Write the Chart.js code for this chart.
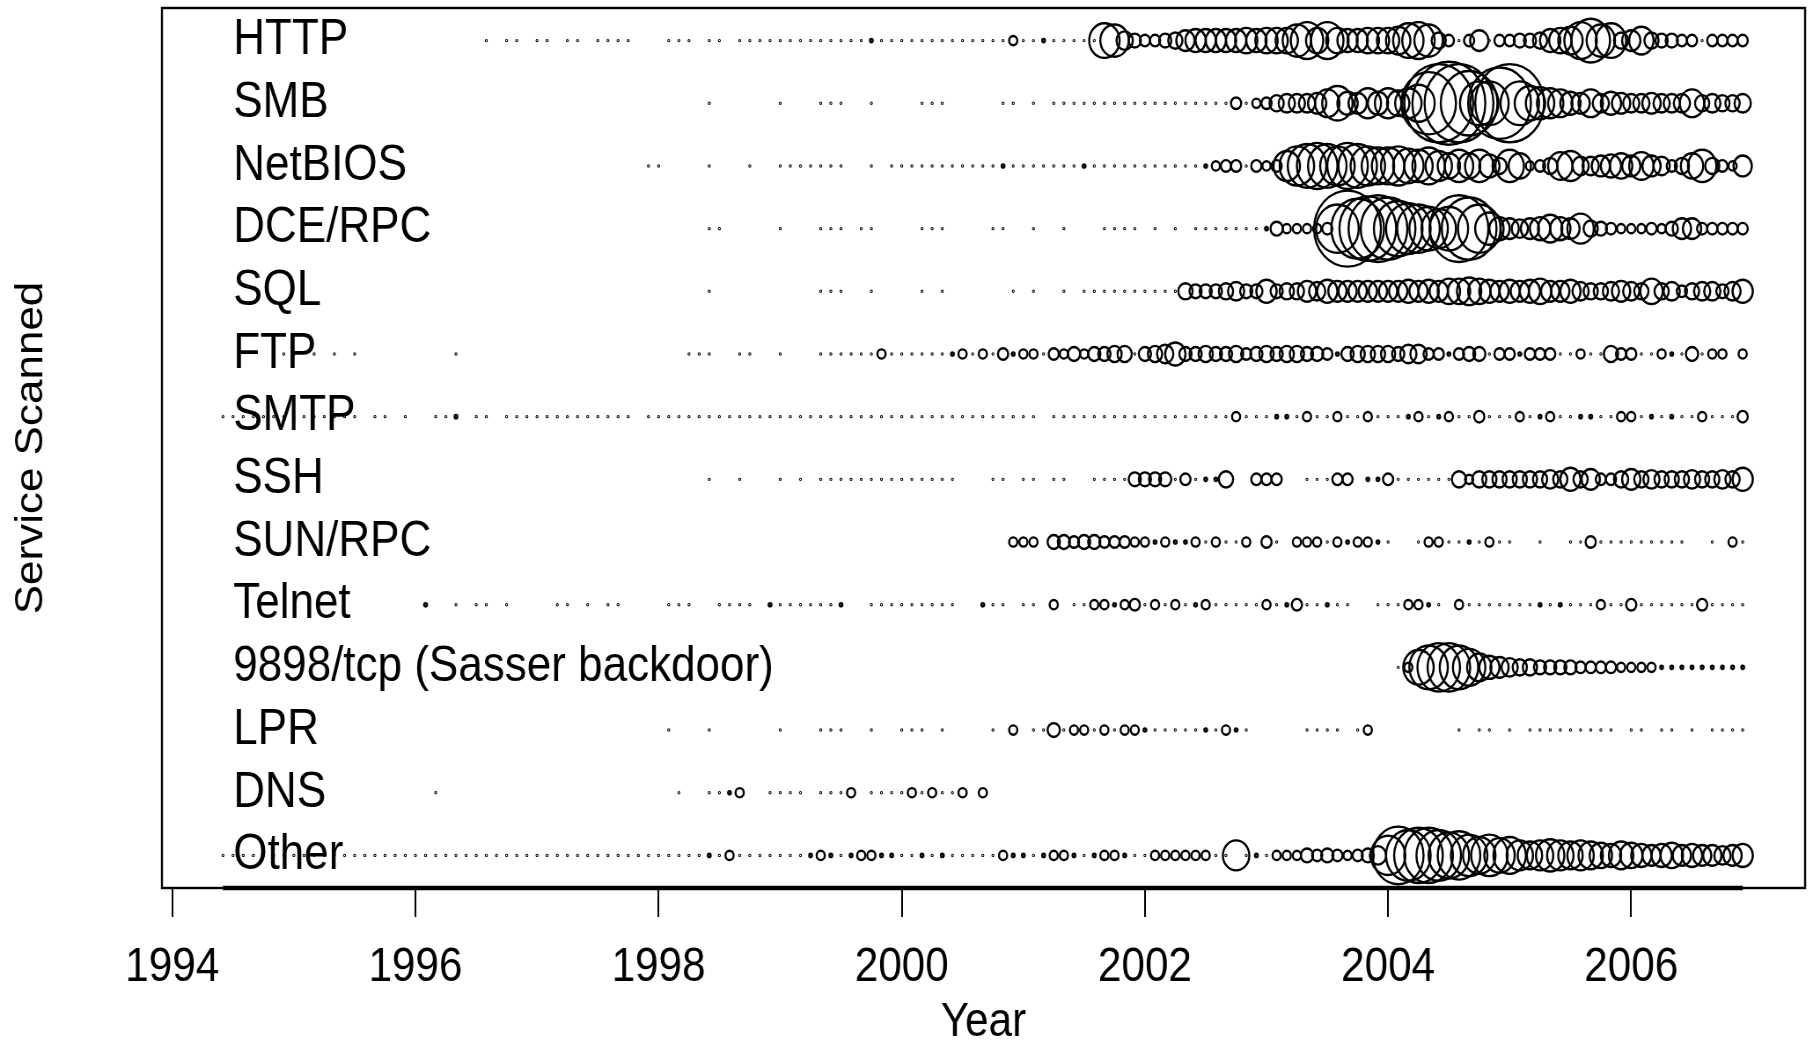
<!DOCTYPE html>
<html>
<head>
<meta charset="utf-8">
<title>Service Scanned</title>
<script src="https://cdn.jsdelivr.net/npm/chart.js@4.4.1/dist/chart.umd.min.js"></script>
<style>
    html, body { margin: 0; padding: 0; background: #fff; }
</style>
</head>
<body>
<canvas id="GraficoServicos" width="2060" height="1043" style="display:block;width:1813px;height:1043px;"></canvas>
<script>
/*Serviços (linhas do gráfico, de cima para baixo)*/
var servicos = ['HTTP', 'SMB', 'NetBIOS', 'DCE/RPC', 'SQL', 'FTP', 'SMTP', 'SSH', 'SUN/RPC',
    'Telnet', '9898/tcp (Sasser backdoor)', 'LPR', 'DNS', 'Other'];

/*Série mensal: começa em junho de 1994 e vai até dezembro de 2006*/
var anoInicio = 1994;
var mesInicio = 6;
var anosEixo = [1994, 1996, 1998, 2000, 2002, 2004, 2006];

/*Volume de varredura por mês (0 = sem registro). Uma linha por ano.*/
var http = [
    0, 0, 0, 0, 0, 0, 0,
    0, 0, 0, 0, 0, 0, 0, 0, 0, 0, 0, 0,
    0, 0, 0, 0, 0, 0, 0, 1, 0, 1, 1, 0,
    1, 1, 0, 1, 1, 0, 1, 1, 1, 1, 0, 0,
    0, 1, 1, 1, 0, 1, 1, 0, 1, 1, 1, 1,
    1, 1, 1, 1, 1, 1, 1, 1, 1, 2, 1, 1,
    1, 1, 1, 1, 1, 1, 1, 1, 1, 1, 1, 3,
    1, 1, 2, 1, 1, 1, 1, 1, 14, 13, 7, 5,
    4, 4, 5, 6, 8, 9, 9, 9, 9, 9, 10, 9,
    10, 10, 10, 13, 15, 10, 15, 10, 9, 9, 10, 10,
    10, 11, 14, 15, 13, 6, 4, 1, 4, 8, 1, 4,
    4, 5, 5, 6, 9, 10, 11, 15, 18, 13, 14, 6,
    8, 11, 6, 5, 5, 4, 4, 1, 4, 4, 4, 4
];
var smb = [
    0, 0, 0, 0, 0, 0, 0,
    0, 0, 0, 0, 0, 0, 0, 0, 0, 0, 0, 0,
    0, 0, 0, 0, 0, 0, 0, 0, 0, 0, 0, 0,
    0, 0, 0, 0, 0, 0, 0, 0, 0, 0, 0, 0,
    0, 0, 0, 0, 0, 1, 0, 0, 0, 0, 0, 0,
    1, 0, 0, 0, 1, 1, 1, 0, 0, 1, 0, 0,
    0, 0, 1, 1, 1, 0, 0, 0, 0, 0, 1, 1,
    0, 1, 0, 1, 1, 1, 1, 1, 1, 1, 1, 1,
    1, 1, 1, 1, 1, 1, 1, 1, 1, 4, 1, 3,
    4, 6, 7, 7, 7, 8, 11, 14, 9, 8, 12, 9,
    12, 10, 12, 15, 26, 33, 35, 33, 27, 18, 18, 30,
    33, 18, 14, 13, 12, 11, 9, 8, 11, 7, 9, 8,
    7, 7, 8, 7, 7, 7, 11, 6, 7, 6, 6, 7
];
var netbios = [
    0, 0, 0, 0, 0, 0, 0,
    0, 0, 0, 0, 0, 0, 0, 0, 0, 0, 0, 0,
    0, 0, 0, 0, 0, 0, 0, 0, 0, 0, 0, 0,
    0, 0, 0, 0, 0, 0, 0, 0, 0, 0, 0, 1,
    1, 0, 0, 0, 0, 1, 0, 0, 0, 1, 0, 0,
    1, 1, 1, 1, 1, 1, 1, 0, 0, 1, 0, 1,
    1, 1, 1, 1, 1, 1, 1, 1, 1, 1, 2, 1,
    1, 1, 1, 1, 1, 1, 2, 1, 1, 1, 1, 1,
    1, 1, 1, 1, 1, 1, 2, 3, 4, 4, 1, 4,
    3, 4, 12, 16, 18, 19, 18, 16, 19, 18, 16, 15,
    15, 16, 14, 13, 15, 12, 10, 13, 10, 13, 9, 6,
    13, 10, 3, 4, 6, 11, 12, 7, 7, 8, 9, 10,
    8, 11, 8, 7, 4, 6, 10, 13, 6, 4, 3, 8
];
var dceRpc = [
    0, 0, 0, 0, 0, 0, 0,
    0, 0, 0, 0, 0, 0, 0, 0, 0, 0, 0, 0,
    0, 0, 0, 0, 0, 0, 0, 0, 0, 0, 0, 0,
    0, 0, 0, 0, 0, 0, 0, 0, 0, 0, 0, 0,
    0, 0, 0, 0, 0, 1, 1, 0, 0, 0, 0, 0,
    1, 0, 0, 0, 1, 1, 1, 0, 1, 1, 0, 0,
    0, 0, 1, 1, 1, 0, 0, 0, 0, 1, 1, 0,
    0, 1, 0, 0, 1, 0, 0, 0, 1, 1, 1, 1,
    0, 1, 0, 1, 0, 1, 1, 1, 1, 1, 1, 1,
    2, 5, 3, 3, 3, 3, 4, 20, 32, 25, 27, 28,
    26, 23, 21, 20, 18, 16, 18, 28, 26, 20, 13, 9,
    8, 7, 8, 9, 11, 9, 8, 12, 6, 5, 4, 3,
    3, 3, 4, 3, 5, 8, 8, 4, 4, 4, 4, 4
];
var sql = [
    0, 0, 0, 0, 0, 0, 0,
    0, 0, 0, 0, 0, 0, 0, 0, 0, 0, 0, 0,
    0, 0, 0, 0, 0, 0, 0, 0, 0, 0, 0, 0,
    0, 0, 0, 0, 0, 0, 0, 0, 0, 0, 0, 0,
    0, 0, 0, 0, 0, 1, 0, 0, 0, 0, 0, 0,
    0, 0, 0, 0, 1, 1, 1, 0, 0, 1, 0, 0,
    0, 0, 1, 0, 1, 0, 0, 0, 0, 0, 0, 1,
    0, 1, 0, 0, 1, 0, 1, 1, 1, 1, 1, 1,
    1, 1, 1, 1, 6, 5, 5, 5, 6, 7, 5, 5,
    9, 5, 6, 6, 8, 7, 9, 8, 8, 8, 8, 8,
    8, 8, 9, 8, 9, 8, 10, 10, 11, 10, 9, 8,
    9, 8, 9, 10, 8, 8, 9, 7, 6, 6, 7, 8,
    7, 6, 10, 6, 7, 4, 6, 7, 7, 5, 7, 9
];
var ftp = [
    0, 0, 0, 0, 0, 0, 1,
    1, 0, 1, 0, 1, 0, 1, 0, 0, 0, 0, 0,
    0, 0, 0, 0, 1, 0, 0, 0, 0, 0, 0, 0,
    0, 0, 0, 0, 0, 0, 0, 0, 0, 0, 0, 0,
    0, 0, 0, 1, 1, 1, 0, 0, 1, 1, 0, 0,
    1, 0, 0, 0, 1, 1, 1, 1, 1, 1, 3, 1,
    1, 1, 1, 1, 1, 2, 3, 1, 3, 1, 4, 2,
    3, 3, 1, 4, 3, 5, 3, 5, 5, 6, 6, 1,
    5, 6, 7, 9, 5, 5, 6, 5, 5, 6, 4, 5,
    6, 5, 6, 6, 5, 5, 4, 2, 5, 6, 6, 6,
    6, 5, 7, 7, 4, 4, 2, 4, 5, 5, 1, 4,
    4, 2, 4, 4, 4, 1, 1, 3, 1, 1, 6, 4,
    4, 1, 1, 3, 2, 1, 5, 1, 3, 3, 0, 3
];
var smtp = [
    1, 1, 1, 1, 1, 1, 1,
    1, 1, 1, 1, 1, 1, 1, 0, 1, 1, 0, 1,
    0, 0, 1, 1, 2, 0, 1, 1, 0, 1, 1, 1,
    1, 1, 1, 1, 1, 1, 1, 1, 1, 1, 0, 1,
    1, 1, 1, 1, 1, 1, 1, 1, 1, 1, 1, 1,
    1, 1, 1, 1, 1, 1, 1, 1, 1, 1, 1, 1,
    1, 1, 1, 1, 1, 1, 1, 1, 1, 1, 1, 1,
    1, 1, 0, 1, 1, 1, 1, 1, 1, 1, 1, 1,
    1, 1, 1, 1, 1, 1, 1, 1, 1, 3, 1, 1,
    1, 2, 2, 1, 3, 1, 1, 3, 1, 1, 3, 1,
    1, 1, 2, 3, 1, 2, 3, 1, 1, 4, 1, 1,
    1, 3, 1, 2, 3, 1, 1, 2, 2, 1, 1, 3,
    3, 1, 2, 1, 2, 1, 1, 3, 1, 1, 1, 4
];
var ssh = [
    0, 0, 0, 0, 0, 0, 0,
    0, 0, 0, 0, 0, 0, 0, 0, 0, 0, 0, 0,
    0, 0, 0, 0, 0, 0, 0, 0, 0, 0, 0, 0,
    0, 0, 0, 0, 0, 0, 0, 0, 0, 0, 0, 0,
    0, 0, 0, 0, 0, 1, 0, 0, 1, 0, 0, 0,
    1, 0, 1, 0, 1, 1, 1, 1, 1, 1, 1, 1,
    1, 1, 1, 1, 1, 1, 0, 0, 0, 1, 1, 0,
    1, 1, 0, 1, 1, 0, 0, 1, 1, 1, 1, 5,
    5, 5, 5, 1, 4, 1, 2, 2, 6, 0, 0, 4,
    4, 4, 0, 0, 1, 1, 1, 4, 4, 0, 2, 2,
    4, 1, 1, 1, 1, 1, 1, 6, 3, 6, 6, 6,
    6, 6, 6, 6, 7, 6, 9, 6, 8, 4, 4, 6,
    8, 6, 7, 6, 6, 6, 7, 6, 6, 7, 6, 9
];
var sunRpc = [
    0, 0, 0, 0, 0, 0, 0,
    0, 0, 0, 0, 0, 0, 0, 0, 0, 0, 0, 0,
    0, 0, 0, 0, 0, 0, 0, 0, 0, 0, 0, 0,
    0, 0, 0, 0, 0, 0, 0, 0, 0, 0, 0, 0,
    0, 0, 0, 0, 0, 0, 0, 0, 0, 0, 0, 0,
    0, 0, 0, 0, 0, 0, 0, 0, 0, 0, 0, 0,
    0, 0, 0, 0, 0, 0, 0, 0, 0, 0, 0, 3,
    3, 3, 0, 5, 5, 4, 5, 5, 4, 4, 4, 3,
    3, 2, 3, 2, 2, 3, 1, 3, 1, 1, 3, 0,
    4, 1, 0, 3, 3, 3, 1, 3, 2, 3, 3, 2,
    1, 0, 0, 1, 3, 3, 1, 1, 2, 1, 3, 1,
    1, 0, 0, 1, 0, 0, 1, 1, 4, 1, 1, 1,
    1, 1, 1, 1, 1, 1, 0, 0, 1, 0, 3, 1
];
var telnet = [
    0, 0, 0, 0, 0, 0, 0,
    0, 0, 0, 0, 0, 0, 0, 0, 0, 0, 0, 0,
    0, 2, 0, 0, 1, 0, 1, 1, 0, 1, 0, 0,
    0, 0, 1, 1, 0, 1, 0, 1, 1, 0, 0, 0,
    0, 1, 1, 1, 0, 0, 1, 1, 1, 1, 0, 2,
    1, 1, 1, 1, 1, 1, 2, 0, 0, 1, 1, 1,
    1, 1, 1, 1, 1, 1, 0, 0, 2, 1, 1, 0,
    1, 1, 0, 3, 0, 1, 1, 3, 3, 2, 3, 4,
    1, 3, 1, 3, 1, 2, 3, 1, 1, 1, 1, 1,
    3, 1, 2, 4, 1, 1, 2, 1, 1, 0, 0, 1,
    1, 1, 3, 3, 2, 1, 0, 3, 1, 1, 1, 1,
    1, 1, 1, 2, 1, 2, 1, 1, 1, 3, 1, 1,
    4, 1, 1, 1, 1, 1, 1, 4, 1, 1, 1, 1
];
var sasser = [
    0, 0, 0, 0, 0, 0, 0,
    0, 0, 0, 0, 0, 0, 0, 0, 0, 0, 0, 0,
    0, 0, 0, 0, 0, 0, 0, 0, 0, 0, 0, 0,
    0, 0, 0, 0, 0, 0, 0, 0, 0, 0, 0, 0,
    0, 0, 0, 0, 0, 0, 0, 0, 0, 0, 0, 0,
    0, 0, 0, 0, 0, 0, 0, 0, 0, 0, 0, 0,
    0, 0, 0, 0, 0, 0, 0, 0, 0, 0, 0, 0,
    0, 0, 0, 0, 0, 0, 0, 0, 0, 0, 0, 0,
    0, 0, 0, 0, 0, 0, 0, 0, 0, 0, 0, 0,
    0, 0, 0, 0, 0, 0, 0, 0, 0, 0, 0, 0,
    0, 1, 3, 14, 18, 20, 20, 18, 15, 11, 9, 8,
    7, 6, 6, 5, 5, 5, 5, 4, 4, 4, 4, 3,
    3, 3, 3, 2, 2, 2, 2, 2, 2, 2, 2, 2
];
var lpr = [
    0, 0, 0, 0, 0, 0, 0,
    0, 0, 0, 0, 0, 0, 0, 0, 0, 0, 0, 0,
    0, 0, 0, 0, 0, 0, 0, 0, 0, 0, 0, 0,
    0, 0, 0, 0, 0, 0, 0, 0, 0, 0, 0, 0,
    0, 1, 0, 0, 0, 1, 0, 0, 0, 0, 0, 0,
    1, 0, 0, 0, 1, 1, 1, 0, 0, 1, 0, 0,
    1, 1, 1, 0, 1, 0, 0, 0, 0, 1, 0, 3,
    0, 1, 1, 5, 1, 3, 3, 1, 3, 1, 3, 3,
    2, 1, 1, 1, 1, 1, 2, 1, 3, 2, 1, 0,
    0, 0, 0, 0, 1, 1, 1, 1, 0, 1, 3, 0,
    0, 0, 0, 0, 0, 0, 0, 1, 0, 1, 1, 0,
    1, 0, 1, 1, 1, 1, 1, 1, 1, 1, 1, 0,
    1, 1, 0, 1, 1, 0, 1, 0, 1, 1, 1, 1
];
var dns = [
    0, 0, 0, 0, 0, 0, 0,
    0, 0, 0, 0, 0, 0, 0, 0, 0, 0, 0, 0,
    0, 0, 1, 0, 0, 0, 0, 0, 0, 0, 0, 0,
    0, 0, 0, 0, 0, 0, 0, 0, 0, 0, 0, 0,
    0, 0, 1, 0, 0, 1, 1, 2, 3, 0, 0, 1,
    1, 1, 1, 0, 1, 1, 1, 3, 0, 1, 1, 1,
    1, 3, 1, 3, 1, 1, 3, 0, 3, 0, 0, 0,
    0, 0, 0, 0, 0, 0, 0, 0, 0, 0, 0, 0,
    0, 0, 0, 0, 0, 0, 0, 0, 0, 0, 0, 0,
    0, 0, 0, 0, 0, 0, 0, 0, 0, 0, 0, 0,
    0, 0, 0, 0, 0, 0, 0, 0, 0, 0, 0, 0,
    0, 0, 0, 0, 0, 0, 0, 0, 0, 0, 0, 0,
    0, 0, 0, 0, 0, 0, 0, 0, 0, 0, 0, 0
];
var other = [
    1, 1, 1, 1, 1, 1, 1,
    1, 1, 1, 1, 1, 1, 1, 1, 1, 1, 1, 1,
    1, 1, 1, 1, 1, 1, 1, 1, 1, 1, 1, 1,
    1, 1, 1, 1, 1, 1, 1, 1, 1, 1, 1, 1,
    1, 1, 1, 1, 1, 2, 1, 3, 1, 1, 1, 1,
    1, 1, 1, 2, 3, 2, 1, 2, 3, 3, 2, 2,
    1, 1, 2, 1, 2, 1, 1, 1, 1, 1, 3, 2,
    2, 1, 2, 3, 3, 2, 1, 2, 3, 3, 2, 1,
    1, 3, 3, 3, 3, 3, 3, 1, 1, 12, 1, 2,
    1, 3, 3, 3, 5, 4, 5, 4, 3, 4, 5, 7,
    16, 24, 21, 23, 23, 21, 19, 20, 17, 15, 17, 14,
    15, 12, 11, 12, 13, 12, 11, 12, 11, 10, 9, 11,
    10, 9, 8, 9, 10, 8, 9, 8, 8, 7, 8, 9
];

var series = [http, smb, netbios, dceRpc, sql, ftp, smtp, ssh, sunRpc, telnet, sasser, lpr, dns, other];

var fonte = '"Liberation Sans", Arial, Helvetica, sans-serif';

/*Ano decimal de cada mês da série*/
function anoDoMes(i) {
    return anoInicio + (mesInicio - 1 + i) / 12;
}

/*Raio do círculo a partir do volume*/
function raio(v) {
    return v < 3 ? 0.5 + (v - 1) * 1.1 : v * 1.15 + 1.2;
}

function montarPontos(valores, linha) {
    var pontos = [];
    valores.forEach(function (v, i) {
        if (v > 0) {
            pontos.push({ x: anoDoMes(i), y: linha, r: raio(v) });
        }
    });
    return pontos;
}

/*Moldura do gráfico e faixa do período na base*/
var moldura = {
    id: 'moldura',
    afterDatasetsDraw: function (chart) {
        var a = chart.chartArea;
        var c = chart.ctx;
        var eixoX = chart.scales.x;
        c.save();
        c.strokeStyle = '#000';
        c.lineWidth = 2.4;
        c.strokeRect(a.left, a.top, a.right - a.left, a.bottom - a.top);
        c.lineWidth = 4.5;
        c.beginPath();
        c.moveTo(eixoX.getPixelForValue(anoDoMes(0)), a.bottom);
        c.lineTo(eixoX.getPixelForValue(anoDoMes(http.length - 1)), a.bottom);
        c.stroke();
        c.restore();
    }
};

/*Construção do gráfico*/
var ctx = document.getElementById('GraficoServicos').getContext('2d');

var grafico = new Chart(ctx, {
    type: 'bubble',

    data: {
        datasets: series.map(function (valores, k) {
            return {
                label: servicos[k],
                data: montarPontos(valores, servicos.length - k),
                backgroundColor: 'rgba(0,0,0,0)',
                borderColor: '#000',
                borderWidth: 2.4
            };
        })
    },
    options: {
        responsive: false,
        animation: false,
        devicePixelRatio: 1,
        events: [],
        layout: { autoPadding: false, padding: { top: 8, right: 9, bottom: 0, left: 0 } },
        plugins: {
            legend: { display: false },
            tooltip: { enabled: false }
        },
        scales: {
            x: {
                type: 'linear',
                position: 'bottom',
                min: 1993.915,
                max: 2007.43,
                afterBuildTicks: function (escala) {
                    escala.ticks = anosEixo.map(function (a) { return { value: a }; });
                },
                afterFit: function (escala) {
                    escala.height = 155;
                    escala.paddingLeft = 0;
                    escala.paddingRight = 0;
                },
                ticks: {
                    autoSkip: false,
                    maxRotation: 0,
                    padding: 22,
                    color: '#000',
                    font: { family: fonte, size: 48 },
                    callback: function (v) { return String(v); }
                },
                grid: { drawOnChartArea: false, drawTicks: true, tickLength: 29, color: '#000', lineWidth: 2 },
                border: { display: false },
                title: {
                    display: true,
                    text: 'Year',
                    color: '#000',
                    font: { family: fonte, size: 48, lineHeight: 0.85 },
                    padding: 0
                }
            },
            y: {
                type: 'linear',
                min: 0.48,
                max: 14.52,
                afterBuildTicks: function (escala) {
                    escala.ticks = servicos.map(function (s, k) { return { value: servicos.length - k }; });
                },
                afterFit: function (escala) {
                    escala.width = 184;
                    escala.paddingTop = 0;
                    escala.paddingBottom = 0;
                },
                ticks: {
                    mirror: true,
                    padding: 81,
                    autoSkip: false,
                    color: '#000',
                    font: { family: fonte, size: 50 },
                    callback: function (v) { return servicos[servicos.length - v]; }
                },
                grid: { display: false },
                border: { display: false },
                title: {
                    display: true,
                    text: 'Service Scanned',
                    color: '#000',
                    font: { family: fonte, size: 44, lineHeight: 1 },
                    padding: { top: 14, bottom: 0 }
                }
            }
        }
    },
    plugins: [moldura]
});
</script>
</body>
</html>
